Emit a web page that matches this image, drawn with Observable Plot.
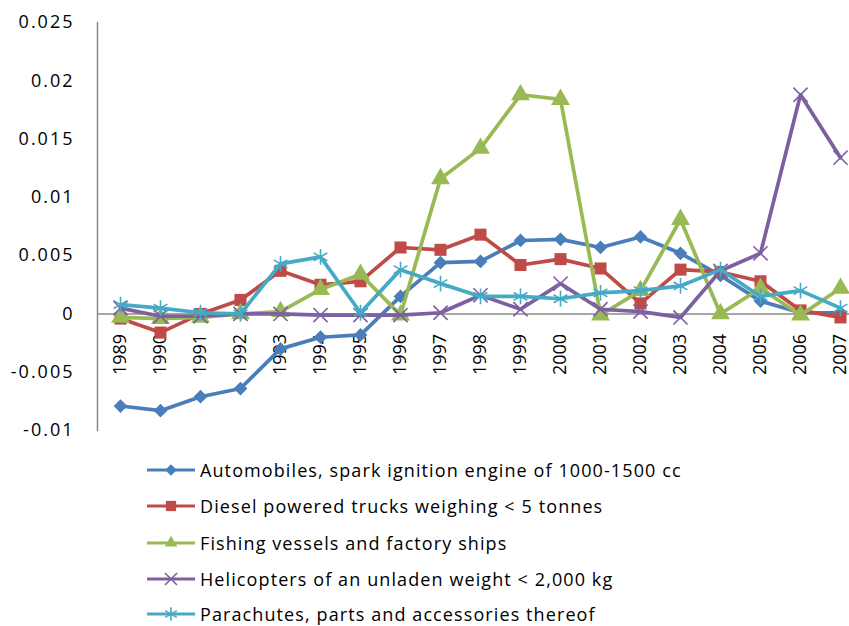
<!DOCTYPE html>
<html>
<head>
<meta charset="utf-8">
<script src="https://cdn.jsdelivr.net/npm/d3@7"></script>
<script src="https://cdn.jsdelivr.net/npm/@observablehq/plot@0.6"></script>
<style>
  html, body { margin: 0; padding: 0; background: #fff; overflow: hidden; width: 849px; height: 626px; }
  #chart { width: 849px; height: 445px; overflow: hidden; }
  #chart svg { max-width: none !important; display: block; }
  #chart svg g[aria-label="y-axis tick label"] text { letter-spacing: 2px; }
  #legend { position: relative; width: 849px; font-family: "Open Sans", sans-serif; font-size: 18px; color: #000; }
  .row { position: absolute; left: 147px; height: 24px; display: flex; align-items: center; white-space: nowrap; letter-spacing: 1.1px; }
  .row svg { margin-right: 5px; }
</style>
</head>
<body>
<div id="chart"></div>
<div id="legend"></div>
<script>
const years = ["1989","1990","1991","1992","1993","1994","1995","1996","1997","1998","1999","2000","2001","2002","2003","2004","2005","2006","2007"];
const seriesNames = [
  "Automobiles, spark ignition engine of 1000-1500 cc",
  "Diesel powered trucks weighing < 5 tonnes",
  "Fishing vessels and factory ships",
  "Helicopters of an unladen weight < 2,000 kg",
  "Parachutes, parts and accessories thereof"
];
const automobiles = [-0.0079,-0.0083,-0.0071,-0.0064,-0.0030,-0.0020,-0.0018,0.0015,0.0044,0.0045,0.0063,0.0064,0.0057,0.0066,0.0052,0.0033,0.0011,0.0001,0.0001];
const dieselTrucks = [-0.0004,-0.0016,0.0000,0.0012,0.0037,0.0025,0.0028,0.0057,0.0055,0.0068,0.0042,0.0047,0.0039,0.0009,0.0038,0.0036,0.0028,0.0003,-0.0003];
const fishingVessels = [-0.0003,-0.0004,-0.0003,0.0000,0.0002,0.0021,0.0034,-0.0001,0.0116,0.0142,0.0188,0.0184,-0.0001,0.0020,0.0081,0.0000,0.0022,-0.0001,0.0022];
const helicopters = [0.0005,-0.0002,-0.0002,0.0000,0.0000,-0.0001,-0.0001,-0.0001,0.0001,0.0016,0.0004,0.0026,0.0004,0.0002,-0.0003,0.0037,0.0052,0.0188,0.0134];
const parachutes = [0.0008,0.0005,0.0001,0.0000,0.0043,0.0049,0.0001,0.0038,0.0026,0.0015,0.0015,0.0013,0.0018,0.0020,0.0024,0.0038,0.0015,0.0020,0.0005];
const yTicks = [-0.01,-0.005,0,0.005,0.01,0.015,0.02,0.025];

const seriesValues = [automobiles, dieselTrucks, fishingVessels, helicopters, parachutes];
const colors = ["#4A7EBB","#BE4B48","#98B954","#7D60A0","#46AAC5"];
const symbols = ["diamond2","square","triangle","times","asterisk"];
const radii = [6.2, 6.8, 7, 6.5, 7.5];
const filled = [true, true, true, false, false];

const marks = [
  Plot.frame({anchor: "left", stroke: "#8a8a8a", strokeWidth: 1.5}),
  Plot.ruleY([0], {stroke: "#8a8a8a", strokeWidth: 1.5}),
  Plot.axisY({ticks: yTicks, tickSize: 0, tickPadding: 23, fontSize: 18, label: null,
    tickFormat: d => String(+d.toFixed(3))}),
  Plot.text(years, {x: d => d, y: 0, text: d => d, rotate: -90, textAnchor: "end", dy: 20, fontSize: 18})
];
seriesValues.forEach((vals, i) => {
  const rows = years.map((yr, j) => ({year: yr, value: vals[j]}));
  marks.push(Plot.line(rows, {x: "year", y: "value", stroke: colors[i], strokeWidth: 3.7, strokeLinejoin: "round"}));
  marks.push(Plot.dot(rows, filled[i]
    ? {x: "year", y: "value", symbol: symbols[i], r: radii[i], fill: colors[i], stroke: "none"}
    : {x: "year", y: "value", symbol: symbols[i], r: radii[i], fill: "none", stroke: colors[i], strokeWidth: 1.6}));
});

const plot = Plot.plot({
  width: 870,
  height: 445,
  marginLeft: 97,
  marginRight: 7,
  marginTop: 22,
  marginBottom: 15,
  style: {fontFamily: "Open Sans, sans-serif", fontSize: "17px", color: "#000", background: "#fff", maxWidth: "none"},
  x: {type: "band", domain: years, padding: 0, axis: null},
  y: {domain: [-0.01, 0.025], axis: null},
  marks
});
document.getElementById("chart").appendChild(plot);

// Legend (HTML below the SVG)
const legend = document.getElementById("legend");
legend.style.height = (626 - 445) + "px";
const rowCenters = [470, 506, 543, 579, 614];
const symMap = {diamond2: d3.symbolDiamond2, square: d3.symbolSquare, triangle: d3.symbolTriangle2, times: d3.symbolTimes, asterisk: d3.symbolAsterisk};
seriesNames.forEach((name, i) => {
  const row = document.createElement("div");
  row.className = "row";
  row.style.top = (rowCenters[i] - 445 - 12) + "px";
  const svg = d3.create("svg").attr("width", 48).attr("height", 20);
  svg.append("line").attr("x1", 0).attr("x2", 48).attr("y1", 10).attr("y2", 10)
    .attr("stroke", colors[i]).attr("stroke-width", 3);
  const r = radii[i] * 0.85;
  const p = d3.symbol(symMap[symbols[i]], Math.PI * r * r)();
  const path = svg.append("path").attr("d", p).attr("transform", "translate(24,10)");
  if (filled[i]) path.attr("fill", colors[i]); else path.attr("fill", "none").attr("stroke", colors[i]).attr("stroke-width", 1.6);
  row.appendChild(svg.node());
  const span = document.createElement("span");
  span.textContent = name;
  row.appendChild(span);
  legend.appendChild(row);
});
</script>
</body>
</html>
